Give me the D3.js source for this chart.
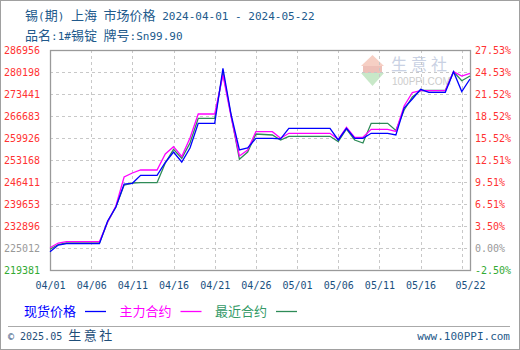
<!DOCTYPE html>
<html><head><meta charset="utf-8">
<script src="https://cdn.jsdelivr.net/npm/d3@7"></script>
<style>body{margin:0;background:#fff}svg{display:block}</style>
</head><body>
<svg id="c" width="520" height="350"></svg>
<script>
const dates = ["2024-04-01","2024-04-02","2024-04-03","2024-04-04","2024-04-05","2024-04-06","2024-04-07","2024-04-08","2024-04-09","2024-04-10",
"2024-04-11","2024-04-12","2024-04-13","2024-04-14","2024-04-15","2024-04-16","2024-04-17","2024-04-18","2024-04-19","2024-04-20",
"2024-04-21","2024-04-22","2024-04-23","2024-04-24","2024-04-25","2024-04-26","2024-04-27","2024-04-28","2024-04-29","2024-04-30",
"2024-05-01","2024-05-02","2024-05-03","2024-05-04","2024-05-05","2024-05-06","2024-05-07","2024-05-08","2024-05-09","2024-05-10",
"2024-05-11","2024-05-12","2024-05-13","2024-05-14","2024-05-15","2024-05-16","2024-05-17","2024-05-18","2024-05-19","2024-05-20",
"2024-05-21","2024-05-22"];
const spot = [225012,227060,227460,227460,227460,227460,227460,234432,238732,245797,
246012,248469,248469,248469,252401,255626,252554,256855,264441,264441,
264441,281336,266991,256240,256855,259833,259833,259833,259680,262905,
262905,262905,262905,262905,262905,259312,262905,259833,259833,261370,
261370,261370,260848,269141,271905,274885,273963,273963,273963,280291,
274209,278049];
const mainContract = [226231,227674,228074,228074,228074,228074,228074,234125,239039,247947,
249176,250097,250097,250097,255012,257254,254244,259926,267298,267298,
267298,279277,266376,254397,256240,261861,261861,261861,259833,261370,
261370,261370,261370,261370,261370,259527,263213,260141,260141,262598,
262598,262598,261923,269755,273902,274455,274455,274455,274455,280291,
278970,279799];
const nearContract = [225739,227214,227674,227674,227674,227674,227674,234125,238732,245490,
246104,246196,246196,246196,252247,256455,253691,258390,265977,265977,
265977,280045,266684,253384,255626,261155,261001,260848,259312,260448,
260448,260448,260448,260448,260448,258851,262691,259312,258390,264441,
264441,264441,262230,268527,272520,274516,274516,274516,274516,280291,
277526,278970];
const yTickLabels = ["219381","225012","232896","239653","246411","253168","259926","266683","273441","280198","286956"];
const pctTickLabels = ["-2.50%","0.00%","3.50%","6.51%","9.51%","12.51%","15.52%","18.52%","21.52%","24.53%","27.53%"];
const xTickDates = ["2024-04-01","2024-04-06","2024-04-11","2024-04-16","2024-04-21","2024-04-26","2024-05-01","2024-05-06","2024-05-11","2024-05-16","2024-05-22"];
const xGridDates = ["2024-04-06","2024-04-11","2024-04-16","2024-04-21","2024-04-26","2024-05-01","2024-05-06","2024-05-11","2024-05-16","2024-05-21"];
const seriesNames = ["现货价格","主力合约","最近合约"];
const seriesColors = ["#0000ff","#ff00ff","#2e8b57"];
const legendTextColors = ["#0000ff","#ff00ff","#339966"];
const yMin = 219381, yMax = 286956;

const parse = d3.timeParse("%Y-%m-%d");
const fmt = d3.timeFormat("%m/%d");
const svg = d3.select("#c");
const L = 50, R = 470, T = 50, B = 270;
const MONO = "'DejaVu Sans Mono', 'Liberation Mono', monospace";
const CJK = "'Noto Sans CJK SC', sans-serif";

function mixed(sel, str, cjkSize, asciiSize){
  const parts = str.split(/([\u3000-\u9fff\uff00-\uffef]+)/).filter(s=>s.length);
  parts.forEach(p=>{
    const isC = /[\u3000-\u9fff\uff00-\uffef]/.test(p);
    sel.append("tspan").attr("font-family", isC?CJK:MONO).attr("font-size", isC?cjkSize:asciiSize)
      .text(p).attr("xml:space","preserve").style("white-space","pre");
  });
  return sel;
}

// outer border
svg.append("rect").attr("x",0.5).attr("y",0.5).attr("width",519).attr("height",349)
  .attr("fill","#fff").attr("stroke","#a0a0a0");

// titles
mixed(svg.append("text").attr("x",25).attr("y",20).attr("fill","#215a8c"), "锡(期) 上海 市场价格 2024-04-01 - 2024-05-22", 13, 11);
mixed(svg.append("text").attr("x",25).attr("y",40).attr("fill","#215a8c"), "品名:1#锡锭 牌号:Sn99.90", 13, 11);

const x = d3.scaleTime().domain([parse(dates[0]), parse(dates[dates.length-1])]).range([L, R]);
const y = d3.scaleLinear().domain([yMin, yMax]).range([B, T]);
const yTickPos = d3.scalePoint().domain(yTickLabels).range([B, T]);
const pctPos = d3.scalePoint().domain(pctTickLabels).range([B, T]);

// watermark
const wm = svg.append("g");
wm.append("polygon").attr("points","361,66 372.5,55 384,66").attr("fill","#f6cfc4");
wm.append("rect").attr("x",363).attr("y",66).attr("width",19).attr("height",7).attr("fill","#eec0b8");
wm.append("polygon").attr("points","361,73 384,73 372.5,86").attr("fill","#c8e8c8");
wm.append("text").attr("x",391).attr("y",70).attr("font-family",CJK).attr("font-size",16)
  .attr("letter-spacing",4).attr("fill","#c9d1e3").text("生意社");
wm.append("text").attr("x",392).attr("y",85).attr("font-family","'Liberation Sans', Arial, sans-serif").attr("font-size",10)
  .attr("fill","#cccccc").text("100PPI.COM");

// grid
const grid = svg.append("g").attr("stroke","#c8c8c8").attr("stroke-dasharray","3,3").attr("shape-rendering","crispEdges");
grid.selectAll("line.h").data(yTickLabels.slice(1, -1)).join("line").attr("class","h")
  .attr("x1",L).attr("x2",R).attr("y1",d=>Math.round(yTickPos(d))+0.5).attr("y2",d=>Math.round(yTickPos(d))+0.5);
grid.selectAll("line.v").data(xGridDates).join("line").attr("class","v")
  .attr("y1",T).attr("y2",B).attr("x1",d=>Math.round(x(parse(d)))+0.5).attr("x2",d=>Math.round(x(parse(d)))+0.5);

// frame
svg.append("rect").attr("x",L+0.5).attr("y",T+0.5).attr("width",R-L).attr("height",B-T)
  .attr("fill","none").attr("stroke","#9a9a9a").attr("stroke-width",1.3);

// left axis labels
const yColor = (d,i)=> i===0 ? "#33aa33" : (i===1 ? "#999999" : "#ff3333");
const yAxisL = d3.axisLeft(yTickPos).tickSize(0).tickPadding(10);
const gL = svg.append("g").attr("transform",`translate(${L},0)`).call(yAxisL);
gL.select(".domain").remove();
gL.selectAll("text").attr("font-family",MONO).attr("font-size",10).attr("fill",yColor);
const yAxisR = d3.axisRight(pctPos).tickSize(0).tickPadding(5);
const gR = svg.append("g").attr("transform",`translate(${R},0)`).call(yAxisR);
gR.select(".domain").remove();
gR.selectAll("text").attr("font-family",MONO).attr("font-size",10).attr("fill",yColor);

// x axis labels
const xAxis = d3.axisBottom(x).tickValues(xTickDates.map(parse)).tickFormat(fmt).tickSize(0).tickPadding(12);
const gX = svg.append("g").attr("transform",`translate(0,${B})`).call(xAxis);
gX.select(".domain").remove();
gX.selectAll("text").attr("font-family",MONO).attr("font-size",10).attr("fill","#1a5080");

// lines
const allSeries = [nearContract, mainContract, spot];
const colorIdx = [2,1,0];
const line = d3.line().x((d,i)=>x(parse(dates[i]))).y(d=>y(d));
allSeries.forEach((s,k)=>{
  svg.append("path").datum(s).attr("d",line).attr("fill","none")
    .attr("stroke",seriesColors[colorIdx[k]]).attr("stroke-width",1.3);
});

// legend
const legX = [24, 119.5, 215];
seriesNames.forEach((n,i)=>{
  svg.append("text").attr("x",legX[i]).attr("y",315.5).attr("font-family",CJK).attr("font-size",13)
    .attr("fill",legendTextColors[i]).text(n);
  svg.append("line").attr("x1",legX[i]+61).attr("x2",legX[i]+82).attr("y1",311.5).attr("y2",311.5)
    .attr("stroke",seriesColors[i]).attr("stroke-width",1.3);
});

// footer
svg.append("line").attr("x1",8).attr("x2",510).attr("y1",326.5).attr("y2",326.5).attr("stroke","#aaaaaa");
const ft = svg.append("text").attr("x",8).attr("y",340).attr("fill","#1f4e79");
mixed(ft, "© 2025.05 ", 13, 10);
ft.append("tspan").attr("font-family",CJK).attr("font-size",13).attr("letter-spacing",2.5).text("生意社");
svg.append("text").attr("x",510).attr("y",340).attr("text-anchor","end").attr("font-family",MONO)
  .attr("font-size",11).attr("fill","#1f5a8a").text("www.100PPI.com");
</script>
</body></html>
